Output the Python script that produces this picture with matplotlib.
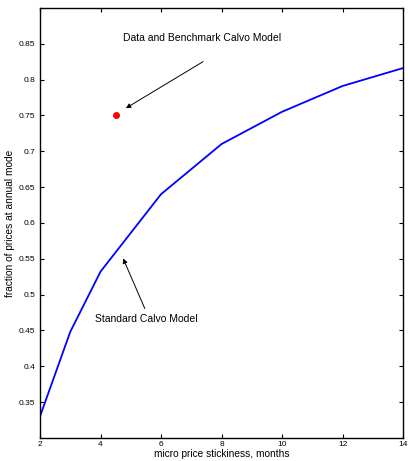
import numpy as np
import matplotlib
matplotlib.use('Agg')
import matplotlib.pyplot as plt

plt.rcParams['font.family'] = ['Liberation Sans', 'DejaVu Sans']

# dados
stickiness = [2, 3, 4, 6, 8, 10, 12, 14]
frac_annual = [0.330, 0.448, 0.532, 0.640, 0.710, 0.755, 0.791, 0.816]
data_x = [4.5]
data_y = [0.75]

fig = plt.figure(figsize=(4.08, 4.61), dpi=100)
ax = fig.add_axes([0.098, 0.05, 0.89, 0.933])

ax.plot(stickiness, frac_annual, color='#0000ff', lw=1.3)
ax.plot(data_x, data_y, 'o', color='#ff0000', ms=4)

# anotacoes
ax.text(7.36, 0.8586, 'Data and Benchmark Calvo Model', ha='center', va='center', fontsize=7.5)
ax.annotate('', xy=(4.76, 0.758), xytext=(7.47, 0.827),
            arrowprops=dict(arrowstyle='-|>', color='k', lw=0.7, mutation_scale=7))
ax.text(5.52, 0.466, 'Standard Calvo Model', ha='center', va='center', fontsize=7.5)
ax.annotate('', xy=(4.71, 0.554), xytext=(5.5, 0.477),
            arrowprops=dict(arrowstyle='-|>', color='k', lw=0.7, mutation_scale=7))

ax.set_xlim(2, 14)
ax.set_ylim(0.3, 0.9)
ax.set_xticks([2, 4, 6, 8, 10, 12, 14])
yt = [0.35, 0.4, 0.45, 0.5, 0.55, 0.6, 0.65, 0.7, 0.75, 0.8, 0.85]
ax.set_yticks(yt)
ax.set_yticklabels([('%g' % v) for v in yt])
ax.tick_params(direction='in', top=True, right=True, labelsize=6, length=3, width=0.8)
ax.tick_params(axis='x', pad=2.5)
ax.tick_params(axis='y', pad=3.5)
for sp in ax.spines.values():
    sp.set_linewidth(1.0)

ax.set_xlabel('micro price stickiness, months', fontsize=7.3, labelpad=0.5)
ax.set_ylabel('fraction of prices at annual mode', fontsize=7.3, labelpad=2.5)

fig.savefig('out.png', dpi=100)
